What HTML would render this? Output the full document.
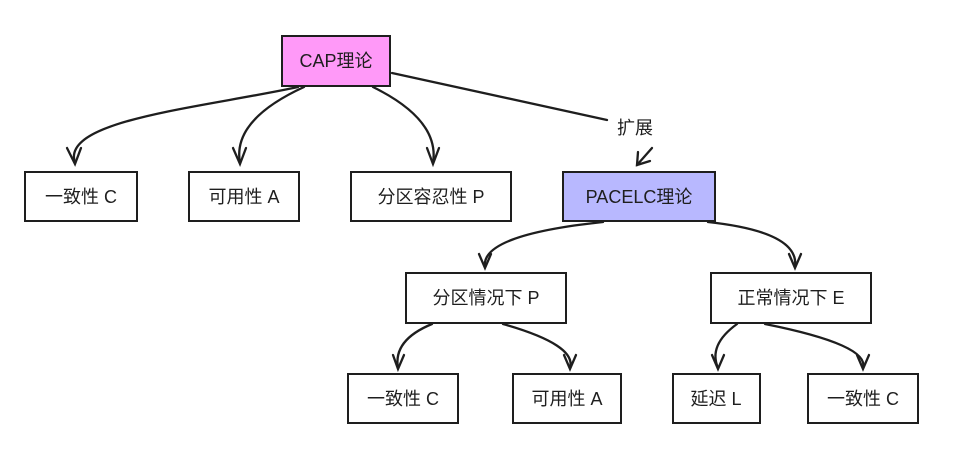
<!DOCTYPE html>
<html><head><meta charset="utf-8"><style>
body{margin:0;background:#fff;}
svg{display:block;}
text{font-family:"Liberation Sans","Noto Sans CJK SC",sans-serif;font-size:18px;fill:#1e1e1e;text-anchor:middle;dominant-baseline:central;}
</style></head><body>
<svg width="968" height="457" viewBox="0 0 968 457" xmlns="http://www.w3.org/2000/svg">
<g stroke="#1e1e1e" stroke-width="2" fill="#fff">
<rect x="282" y="36" width="108" height="50" fill="#ff99f8"/>
<rect x="25" y="172" width="112" height="49"/>
<rect x="189" y="172" width="110" height="49"/>
<rect x="351" y="172" width="160" height="49"/>
<rect x="563" y="172" width="152" height="49" fill="#b8b8ff"/>
<rect x="406" y="273" width="160" height="50"/>
<rect x="711" y="273" width="160" height="50"/>
<rect x="348" y="374" width="110" height="49"/>
<rect x="513" y="374" width="108" height="49"/>
<rect x="673" y="374" width="87" height="49"/>
<rect x="808" y="374" width="110" height="49"/>
</g>
<g stroke="#1e1e1e" stroke-width="2.3" fill="none" stroke-linecap="round">
<path d="M298,87 C200,108 60,120 75,163"/><path d="M67,148 L75,164 L81,148"/>
<path d="M304,87 Q232,120 240,163"/><path d="M233,148 L240,164 L246,148"/>
<path d="M373,87 Q440,120 433,163"/><path d="M427,148 L433,164 L439,148"/>
<path d="M392,73 L607,120"/>
<path d="M652,148 L637,165"/><path d="M638,152 L637,165 L650,161"/>
<path d="M603,222 Q480,235 485,267"/><path d="M479,254 L485,268 L491,254"/>
<path d="M708,222 Q800,232 795,267"/><path d="M789,254 L795,268 L801,254"/>
<path d="M432,324 Q393,340 398,368"/><path d="M393,355 L398,369 L404,355"/>
<path d="M503,324 Q577,345 570,368"/><path d="M564,355 L570,369 L576,355"/>
<path d="M737,324 Q708,345 718,368"/><path d="M712,355 L718,369 L724,355"/>
<path d="M765,324 Q870,345 863,368"/><path d="M857,355 L863,369 L869,355"/>
</g>
<text x="336" y="61">CAP理论</text>
<text x="81" y="197">一致性 C</text>
<text x="244" y="197">可用性 A</text>
<text x="431" y="197">分区容忍性 P</text>
<text x="639" y="197">PACELC理论</text>
<text x="635" y="128">扩展</text>
<text x="486" y="298">分区情况下 P</text>
<text x="791" y="298">正常情况下 E</text>
<text x="403" y="399">一致性 C</text>
<text x="567" y="399">可用性 A</text>
<text x="716" y="399">延迟 L</text>
<text x="863" y="399">一致性 C</text>
</svg>
</body></html>
